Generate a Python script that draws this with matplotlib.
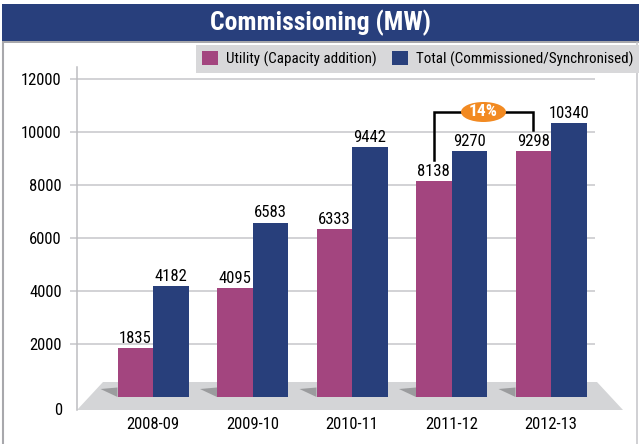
import matplotlib
matplotlib.use("Agg")
import matplotlib.pyplot as plt
from matplotlib.patches import Polygon, Rectangle, Ellipse, Patch
import numpy as np

plt.rcParams['font.family'] = ['Roboto Condensed', 'Liberation Sans', 'DejaVu Sans']

# ---- data ----
years = ["2008-09", "2009-10", "2010-11", "2011-12", "2012-13"]
utility = [1835, 4095, 6333, 8138, 9298]
total = [4182, 6583, 9442, 9270, 10340]
yticks = [2000, 4000, 6000, 8000, 10000, 12000]
title = "Commissioning (MW)"
legend_labels = ["Utility (Capacity addition)", "Total (Commissioned/Synchronised)"]

C_UTIL = "#A3457F"
C_TOT = "#283F7B"
C_BANNER = "#283F7C"
C_FLOOR = "#D4D5D7"
C_SHADOW = "#9B9C9E"
C_GRID = "#C6C6CA"
C_LEG = "#D8D8DA"
C_ORANGE = "#F28A22"

W, H = 639, 444
fig = plt.figure(figsize=(W / 100, H / 100), dpi=100)

# frame and banner
fig.add_artist(Rectangle((2 / W, 1 - 41 / H), (W - 2) / W, 37 / H, transform=fig.transFigure,
                         facecolor=C_BANNER, edgecolor="none"))
fig.add_artist(Rectangle((2 / W, 1 - 43 / H), (W - 2) / W, 2 / H, transform=fig.transFigure,
                         facecolor="#A8A8AC", edgecolor="none"))
fig.add_artist(plt.Line2D([2.5 / W, 2.5 / W], [0, 1 - 43 / H], transform=fig.transFigure,
                          color="#A8A8AC", lw=1.5))
fig.add_artist(plt.Line2D([637 / W, 637 / W], [0, 1 - 43 / H], transform=fig.transFigure,
                          color="#C8C8CC", lw=1.2))
fig.text(320 / W, 1 - 23 / H, title, color="white", fontsize=18.5, fontweight="bold",
         ha="center", va="center")

# axes geometry (pixel layout)
scale = 53 / 2000.0     # px per MW
base_px = 397           # bar base row
top_px, bot_px = 67, 410
left_px, right_px = 77, 623
c0, step = 153, 99.5
ax = fig.add_axes([left_px / W, (H - bot_px) / H, (right_px - left_px) / W, (bot_px - top_px) / H])
ax.set_ylim(-(bot_px - base_px) / scale, (base_px - top_px) / scale)
ax.set_xlim((left_px - c0) / step, (right_px - c0) / step)

def px2x(p):
    return (p - c0) / step

def py2y(p):
    return (base_px - p) / scale

ymin = ax.get_ylim()[0]
# floor
floor = Polygon([(px2x(77), ymin), (px2x(103), py2y(382)), (px2x(597), py2y(382)), (px2x(623), ymin)],
                closed=True, facecolor=C_FLOOR, edgecolor="none", zorder=1)
ax.add_patch(floor)

# gridlines on back wall
ax.hlines(yticks, ax.get_xlim()[0], px2x(595), color=C_GRID, lw=1.1, zorder=0.5)

x = np.arange(len(years))
w = 35.5 / step
b1 = ax.bar(x - w / 2, utility, w, color=C_UTIL, zorder=3, linewidth=0)
b2 = ax.bar(x + w / 2, total, w, color=C_TOT, zorder=3, linewidth=0)

# shadows
for xi in x:
    lft = xi - w
    sh = Polygon([(lft - 17 / step, py2y(389)), (lft, py2y(387.5)), (lft, 0)], closed=True,
                 facecolor=C_SHADOW, edgecolor="none", zorder=2)
    ax.add_patch(sh)

# value labels
for bars, vals in ((b1, utility), (b2, total)):
    for r, v in zip(bars, vals):
        ax.annotate(f"{v}", (r.get_x() + r.get_width() / 2, v), xytext=(0, 1.5),
                    textcoords="offset points", ha="center", va="bottom", fontsize=12, zorder=5)

# bracket annotation
xl = x[3] - w / 2
xr = x[4] - w / 2
ytop = py2y(112)
ax.plot([xl, xl, xr, xr], [utility[3] + 805, ytop, ytop, utility[4] + 777], color="black",
        lw=1.8, zorder=4, solid_joinstyle="miter")
xm = (xl + xr) / 2
ax.add_patch(Ellipse((xm, ytop), 45 / step, 20 / scale, facecolor=C_ORANGE, edgecolor="none", zorder=5))
pct = round((utility[4] - utility[3]) / utility[3] * 100)
ax.text(xm, ytop, f"{pct}%", color="white", fontweight="bold", fontsize=12.5, ha="center",
        va="center", zorder=6)

# axes styling
for s in ("top", "right", "bottom"):
    ax.spines[s].set_visible(False)
ax.spines["left"].set_color("#BDBDC1")
ax.spines["left"].set_linewidth(1.1)
ax.set_yticks(yticks)
ax.set_yticklabels([str(t) for t in yticks], fontsize=12)
ax.tick_params(axis="y", length=5, color=C_GRID, width=1.1, pad=6)
ax.text(px2x(62), ymin, "0", ha="right", va="center", fontsize=12)
ax.set_xticks(x)
ax.set_xticklabels(years, fontsize=12)
ax.tick_params(axis="x", length=0, pad=5)
ax.patch.set_alpha(0)

# legend
handles = [Patch(facecolor=C_UTIL, edgecolor="none"), Patch(facecolor=C_TOT, edgecolor="none")]
leg = fig.legend(handles, legend_labels, loc="upper right", bbox_to_anchor=(1.0, 1 - 45 / H),
                 ncol=2, fontsize=10.8, frameon=True, fancybox=False, framealpha=1,
                 facecolor=C_LEG, edgecolor="none", handlelength=1.1, handleheight=1.1,
                 handletextpad=0.5, columnspacing=1.0, borderpad=0.4, borderaxespad=0)
leg.get_frame().set_linewidth(0)

fig.savefig("out.png", dpi=100)
